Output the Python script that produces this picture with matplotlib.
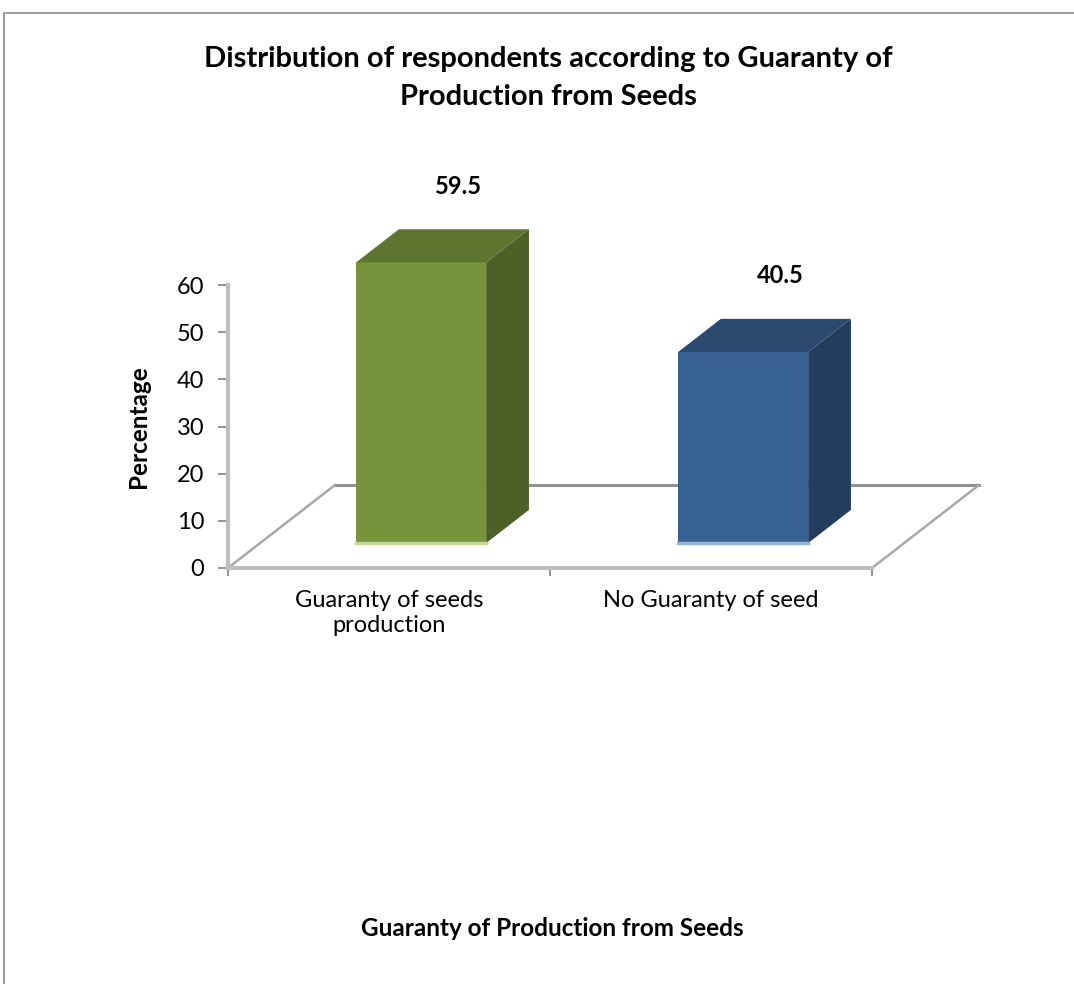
import matplotlib.pyplot as plt
from matplotlib.patches import Polygon, Rectangle

# survey results
categories = ['Guaranty of seeds\nproduction', 'No Guaranty of seed']
values = [59.5, 40.5]
y_ticks = [0, 10, 20, 30, 40, 50, 60]

front_colors = ['#77933c', '#376092']
side_colors = ['#4b6127', '#243d5e']
top_colors = ['#5e7530', '#2c4a70']
base_colors = ['#c3d69b', '#95b3d7']

plt.rcParams['font.family'] = ['Lato', 'DejaVu Sans']

W, H = 1074, 984
fig = plt.figure(figsize=(W / 100, H / 100), dpi=100)
ax = fig.add_axes([228 / W, 1 - 568 / H, 644 / W, 283 / H])
ax.set_xlim(0, 2)
ax.set_ylim(0, 60)

# outer chart border
fig.patches.append(Rectangle((4 / W, -0.01), 1.0, 1 - 13 / H + 0.01, transform=fig.transFigure,
                             fill=False, edgecolor='#8c8c8c', lw=1.2))

# fake 3d floor depth (data units)
DX = 107 / 322
DY = 83 / (283 / 60)

# floor outline
ax.plot([DX, 2 + DX], [DY, DY], color='#909090', lw=2.2, clip_on=False, zorder=1)
ax.plot([0, DX], [0, DY], color='#a8a8a8', lw=1.8, clip_on=False, zorder=1)
ax.plot([2, 2 + DX], [0, DY], color='#a8a8a8', lw=1.8, clip_on=False, zorder=1)

# bars sit between 30% and 70% of the floor depth
bar_w = 0.404
d0, d1 = 0.3, 0.7
ddx, ddy = (d1 - d0) * DX, (d1 - d0) * DY
for i, v in enumerate(values):
    x0 = i + 0.5 - bar_w / 2 + d0 * DX
    y0 = d0 * DY
    ax.add_patch(Rectangle((x0, y0), bar_w, v, facecolor=front_colors[i], edgecolor='none',
                           clip_on=False, zorder=3))
    ax.plot([x0, x0 + bar_w], [y0, y0], color=base_colors[i], lw=2.5, clip_on=False, zorder=4)
    side = [(x0 + bar_w, y0), (x0 + bar_w + ddx, y0 + ddy),
            (x0 + bar_w + ddx, y0 + v + ddy), (x0 + bar_w, y0 + v)]
    ax.add_patch(Polygon(side, facecolor=side_colors[i], edgecolor='none', clip_on=False, zorder=3))
    top = [(x0, y0 + v), (x0 + ddx, y0 + v + ddy),
           (x0 + bar_w + ddx, y0 + v + ddy), (x0 + bar_w, y0 + v)]
    ax.add_patch(Polygon(top, facecolor=top_colors[i], edgecolor='none', clip_on=False, zorder=3))
    ax.annotate(f'{v}', (x0 + bar_w / 2 + ddx, y0 + v + ddy), xytext=(-4, 31),
                textcoords='offset points', ha='center', va='center',
                fontsize=17, fontweight='bold', annotation_clip=False)

# axes styling
for s in ['top', 'right']:
    ax.spines[s].set_visible(False)
ax.spines['left'].set_color('#bfbfbf')
ax.spines['left'].set_linewidth(3)
ax.spines['bottom'].set_color('#bfbfbf')
ax.spines['bottom'].set_linewidth(3)
ax.patch.set_visible(False)

ax.set_yticks(y_ticks)
ax.tick_params(axis='y', length=7, width=1.2, color='#808080', labelsize=17, pad=10)
ax.set_xticks([0, 1, 2])
ax.set_xticklabels([])
ax.tick_params(axis='x', which='major', length=6, width=1.2, color='#808080')
ax.set_xticks([0.5, 1.5], minor=True)
ax.set_xticklabels(categories, minor=True, fontsize=17, linespacing=1.25)
ax.tick_params(axis='x', which='minor', length=0, pad=16)

ax.set_ylabel('Percentage', fontsize=17.5, fontweight='bold', va='center')
ax.yaxis.set_label_coords((138 - 228) / 644, (568 - 427) / 283)

fig.text(552 / W, 1 - 928 / H, 'Guaranty of Production from Seeds', ha='center', va='center',
         fontsize=17.5, fontweight='bold')
fig.text(548 / W, 1 - 78 / H, 'Distribution of respondents according to Guaranty of\nProduction from Seeds',
         ha='center', va='center', fontsize=21, fontweight='bold', linespacing=1.55)

fig.savefig('out.png', dpi=100)
